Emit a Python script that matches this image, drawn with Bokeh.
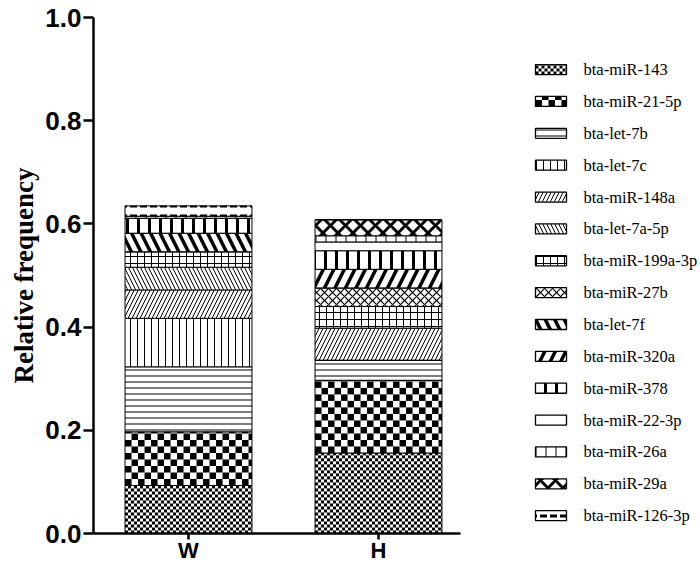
import math
from bokeh.plotting import figure
from bokeh.models import ColumnDataSource, Range1d, FixedTicker, PrintfTickFormatter
from bokeh.core.properties import value
from bokeh.embed import file_html
from bokeh.resources import INLINE

# ---------------- data ----------------
groups = ["W", "H"]
mirnas = ["bta-miR-143", "bta-miR-21-5p", "bta-let-7b", "bta-let-7c", "bta-miR-148a",
          "bta-let-7a-5p", "bta-miR-199a-3p", "bta-miR-27b", "bta-let-7f", "bta-miR-320a",
          "bta-miR-378", "bta-miR-22-3p", "bta-miR-26a", "bta-miR-29a", "bta-miR-126-3p"]
freq_W = [0.093, 0.104, 0.126, 0.094, 0.055, 0.044, 0.030, 0.000, 0.036, 0.000,
          0.029, 0.000, 0.004, 0.000, 0.020]
freq_H = [0.156, 0.141, 0.039, 0.000, 0.062, 0.000, 0.042, 0.036, 0.000, 0.036,
          0.036, 0.017, 0.012, 0.031, 0.000]
y_ticks = [0.0, 0.2, 0.4, 0.6, 0.8, 1.0]

# ---------------- styles ----------------
# hatch per series; "fine"/"coarse" = checkerboard drawn as cells
h_pattern = ["fine", "coarse", "-", "|", "/", "\\", "+", "x",
             "\\", "/", "|", " ", "|", "x", '"']
h_scale = [1, 1, 6, 7, 8, 8, 7, 8, 19, 21, 11, 10, 10, 15, 10]
h_weight = [1, 1, 1, 1, 1, 1, 1, 1.2, 3.5, 3.5, 3, 1, 1, 3, 3]
cell_px = {"fine": 3.0, "coarse": 6.5}

# layout constants
FIG_W, FIG_H = 700, 565
LEFT, MIN_TOP = 93, 17
PX_X = 190.0          # pixels per x unit
PX_Y = 515.0          # pixels per y unit (frame height)
FRAME_BOTTOM = 535    # approximate page y of the frame bottom
BAR_W = 0.668

# ---------------- figure ----------------
xs = [i + 0.5 for i in range(len(groups))]
data = {"x": xs}
for k, name in enumerate(mirnas):
    data[name] = [freq_W[k], freq_H[k]]
source = ColumnDataSource(data)

p = figure(width=FIG_W, height=FIG_H, output_backend="svg", toolbar_location=None,
           x_range=Range1d(0, (FIG_W - LEFT) / PX_X), y_range=Range1d(0, 1.0),
           min_border_left=LEFT, min_border_right=0, min_border_top=MIN_TOP,
           min_border_bottom=0)
p.outline_line_color = None
p.xgrid.grid_line_color = None
p.ygrid.grid_line_color = None
p.background_fill_color = "white"

bar_pattern = [pt if pt not in cell_px else " " for pt in h_pattern]
renderers = p.vbar_stack(mirnas, x="x", width=BAR_W, source=source,
                         fill_color="white", line_color="black", line_width=1,
                         hatch_color="black", hatch_pattern=bar_pattern, hatch_scale=h_scale,
                         hatch_weight=h_weight)


def checker(x0, x1, y0, y1, cpx, out):
    cx, cy = cpx / PX_X, cpx / PX_Y
    nx = int(math.ceil((x1 - x0) / cx - 1e-9))
    ny = int(math.ceil((y1 - y0) / cy - 1e-9))
    for j in range(ny):
        for i in range(nx):
            if (i + j) % 2 == 0:
                out["left"].append(x0 + i * cx)
                out["right"].append(min(x0 + (i + 1) * cx, x1))
                out["bottom"].append(y0 + j * cy)
                out["top"].append(min(y0 + (j + 1) * cy, y1))


cells = {"left": [], "right": [], "bottom": [], "top": []}
for gi, vals in enumerate([freq_W, freq_H]):
    base = 0.0
    for k, v in enumerate(vals):
        if h_pattern[k] in cell_px and v > 0:
            checker(xs[gi] - BAR_W / 2, xs[gi] + BAR_W / 2, base, base + v,
                    cell_px[h_pattern[k]], cells)
        base += v

# ---------------- legend (drawn in the widened frame) ----------------
LEG_X0 = (535 - LEFT) / PX_X
LEG_X1 = (566 - LEFT) / PX_X
LEG_TX = (583 - LEFT) / PX_X
LEG_Y0 = (FRAME_BOTTOM - 72) / PX_Y
LEG_DY = 31.8 / PX_Y
SW_H = 10 / PX_Y
leg_y = [LEG_Y0 - i * LEG_DY for i in range(len(mirnas))]
sw = ColumnDataSource(dict(
    left=[LEG_X0] * len(mirnas), right=[LEG_X1] * len(mirnas),
    bottom=[y - SW_H / 2 for y in leg_y], top=[y + SW_H / 2 for y in leg_y],
    pat=bar_pattern, sc=h_scale, wt=h_weight))
p.quad(left="left", right="right", bottom="bottom", top="top", source=sw,
       fill_color="white", line_color="black", line_width=1.3,
       hatch_color="black", hatch_pattern="pat", hatch_scale="sc", hatch_weight="wt")
for k, y in enumerate(leg_y):
    if h_pattern[k] in cell_px:
        checker(LEG_X0, LEG_X1, y - SW_H / 2, y + SW_H / 2, cell_px[h_pattern[k]], cells)

p.quad(left="left", right="right", bottom="bottom", top="top",
       source=ColumnDataSource(cells), fill_color="black", line_color=None)

p.text(x=[LEG_TX] * len(mirnas), y=leg_y, text=mirnas,
       text_font=value("Liberation Serif"), text_font_size="16.5px",
       text_baseline="middle", text_align="left", text_color="black")

# ---------------- axes ----------------
yax = p.yaxis[0]
yax.ticker = FixedTicker(ticks=y_ticks)
yax.formatter = PrintfTickFormatter(format="%.1f")
yax.minor_tick_line_color = None
yax.major_tick_in = 0
yax.major_tick_out = 10
yax.major_tick_line_width = 2.5
yax.axis_line_width = 2.5
yax.major_label_standoff = 2
yax.major_label_text_font = "Liberation Sans"
yax.major_label_text_font_style = "bold"
yax.major_label_text_font_size = "26px"
yax.major_label_text_color = "black"
yax.axis_label = "Relative frequency"
yax.axis_label_text_font = "Liberation Serif"
yax.axis_label_text_font_style = "bold"
yax.axis_label_text_font_size = "27px"
yax.axis_label_text_color = "black"
yax.axis_label_standoff = 3

xax = p.xaxis[0]
xax.bounds = (0, (460 - LEFT) / PX_X)
xax.ticker = FixedTicker(ticks=xs)
xax.major_label_overrides = {x: g for x, g in zip(xs, groups)}
xax.minor_tick_line_color = None
xax.minor_tick_out = 0
xax.major_tick_in = 0
xax.major_tick_out = 6
xax.major_tick_line_width = 2.5
xax.axis_line_width = 2.5
xax.major_label_standoff = -2
xax.axis_label_standoff = 0
xax.major_label_text_line_height = 1.0
xax.major_label_text_font = "Liberation Sans"
xax.major_label_text_font_style = "bold"
xax.major_label_text_font_size = "22px"
xax.major_label_text_color = "black"

open("out.html", "w").write(file_html(p, INLINE))
